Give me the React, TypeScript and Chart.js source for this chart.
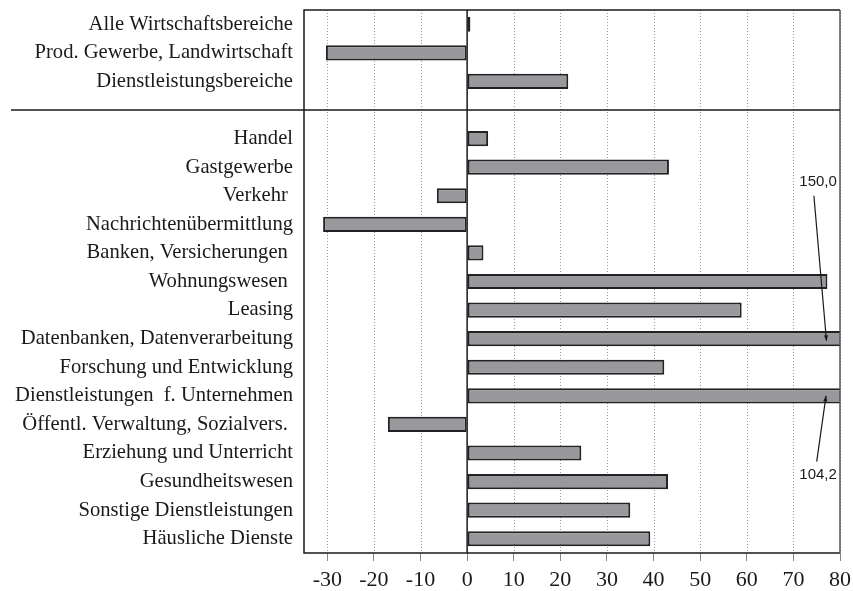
import React, { useEffect, useRef } from "react";
import { Chart, registerables } from "chart.js";

Chart.register(...registerables);

const categories: string[] = [
  "Alle Wirtschaftsbereiche",
  "Prod. Gewerbe, Landwirtschaft",
  "Dienstleistungsbereiche",
  "",
  "Handel",
  "Gastgewerbe",
  "Verkehr ",
  "Nachrichtenübermittlung",
  "Banken, Versicherungen ",
  "Wohnungswesen ",
  "Leasing",
  "Datenbanken, Datenverarbeitung",
  "Forschung und Entwicklung",
  "Dienstleistungen  f. Unternehmen",
  "Öffentl. Verwaltung, Sozialvers. ",
  "Erziehung und Unterricht",
  "Gesundheitswesen",
  "Sonstige Dienstleistungen",
  "Häusliche Dienste",
];

const values: (number | null)[] = [
  0.7, -30.3, 21.7, null, 4.5, 43.3, -6.5, -30.9, 3.5, 77.3, 58.9, 150.0, 42.3,
  104.2, -17.0, 24.5, 43.1, 35.0, 39.3,
];

const tickValues: number[] = [-30, -20, -10, 0, 10, 20, 30, 40, 50, 60, 70, 80];

const xMin = -35;
const xMax = 80;
const separatorIndex = 3;

// annotations: label text, label position (value, category index), arrow start, arrow end
const annotations = [
  { text: "150,0", at: [75.3, 5.5], from: [74.4, 6.0], to: [77.1, 11.08] },
  { text: "104,2", at: [75.3, 15.76], from: [75.0, 15.3], to: [77.0, 13.0] },
];

const framePlugin = {
  id: "framePlugin",
  beforeDatasetsDraw(chart: any) {
    const { ctx, chartArea, scales } = chart;
    const x = scales.x;
    ctx.save();
    ctx.strokeStyle = "#9a9a9a";
    ctx.lineWidth = 1;
    ctx.setLineDash([1, 2]);
    for (const t of x.ticks) {
      if (t.value === 0) continue;
      const px = Math.round(x.getPixelForValue(t.value)) + 0.5;
      ctx.beginPath();
      ctx.moveTo(px, chartArea.top);
      ctx.lineTo(px, chartArea.bottom);
      ctx.stroke();
    }
    ctx.restore();
  },
  afterDatasetsDraw(chart: any) {
    const { ctx, chartArea, scales } = chart;
    const x = scales.x;
    const y = scales.y;
    ctx.save();
    ctx.setLineDash([]);
    ctx.lineWidth = 1.5;
    ctx.strokeStyle = "#1a1a1a";
    ctx.beginPath();
    ctx.moveTo(chartArea.right, chartArea.top);
    ctx.lineTo(chartArea.left, chartArea.top);
    ctx.lineTo(chartArea.left, chartArea.bottom);
    ctx.lineTo(chartArea.right, chartArea.bottom);
    ctx.stroke();
    ctx.strokeStyle = "#555";
    ctx.beginPath();
    ctx.moveTo(chartArea.right, chartArea.top);
    ctx.lineTo(chartArea.right, chartArea.bottom);
    ctx.stroke();
    ctx.strokeStyle = "#1a1a1a";
    const zx = x.getPixelForValue(0);
    ctx.beginPath();
    ctx.moveTo(zx, chartArea.top);
    ctx.lineTo(zx, chartArea.bottom);
    ctx.stroke();
    const sy = y.getPixelForValue(separatorIndex);
    ctx.beginPath();
    ctx.moveTo(11, sy);
    ctx.lineTo(chartArea.right, sy);
    ctx.stroke();
    ctx.fillStyle = "#1a1a1a";
    ctx.font = "15px 'Liberation Sans', Arial, sans-serif";
    ctx.textAlign = "center";
    ctx.textBaseline = "middle";
    ctx.lineWidth = 1.2;
    for (const a of annotations) {
      ctx.fillText(a.text, x.getPixelForValue(a.at[0]), y.getPixelForValue(a.at[1]));
      const x1 = x.getPixelForValue(a.from[0]);
      const y1 = y.getPixelForValue(a.from[1]);
      const x2 = x.getPixelForValue(a.to[0]);
      const y2 = y.getPixelForValue(a.to[1]);
      ctx.beginPath();
      ctx.moveTo(x1, y1);
      ctx.lineTo(x2, y2);
      ctx.stroke();
      const ang = Math.atan2(y2 - y1, x2 - x1);
      const L = 6;
      const w = 0.35;
      ctx.beginPath();
      ctx.moveTo(x2, y2);
      ctx.lineTo(x2 - L * Math.cos(ang - w), y2 - L * Math.sin(ang - w));
      ctx.lineTo(x2 - L * Math.cos(ang + w), y2 - L * Math.sin(ang + w));
      ctx.closePath();
      ctx.fill();
    }
    ctx.restore();
  },
};

export default function App() {
  const ref = useRef<HTMLCanvasElement | null>(null);
  useEffect(() => {
    if (!ref.current) return;
    const chart = new Chart(ref.current, {
      type: "bar",
      data: {
        labels: categories,
        datasets: [
          {
            data: values as any,
            backgroundColor: "#99989c",
            borderColor: "#222",
            borderWidth: 2,
            borderSkipped: false,
            barPercentage: 0.53,
            categoryPercentage: 1,
          },
        ],
      },
      options: {
        indexAxis: "y",
        animation: false,
        responsive: true,
        maintainAspectRatio: false,
        layout: { padding: { top: 10, right: 13, left: 0, bottom: 0 } },
        plugins: { legend: { display: false }, tooltip: { enabled: false } },
        scales: {
          x: {
            type: "linear",
            min: xMin,
            max: xMax,
            ticks: {
              color: "#1a1a1a",
              padding: 6,
              font: { family: "'Liberation Serif', 'Times New Roman', serif", size: 22 },
            },
            afterBuildTicks: (scale: any) => {
              scale.ticks = tickValues.map((v) => ({ value: v }));
            },
            afterFit: (scale: any) => {
              scale.height = 38;
              scale.paddingLeft = 0;
              scale.paddingRight = 0;
            },
            grid: {
              display: true,
              drawOnChartArea: false,
              drawTicks: true,
              tickLength: 8,
              color: "#888",
            },
            border: { display: false },
          },
          y: {
            type: "category",
            ticks: {
              color: "#1a1a1a",
              padding: 11,
              autoSkip: false,
              font: { family: "'Liberation Serif', 'Times New Roman', serif", size: 20.6 },
            },
            afterFit: (scale: any) => {
              scale.width = 304;
              scale.paddingTop = 0;
              scale.paddingBottom = 0;
            },
            grid: { display: false, drawTicks: false },
            border: { display: false },
          },
        },
      },
      plugins: [framePlugin],
    });
    return () => chart.destroy();
  }, []);
  return (
    <div style={{ position: "fixed", left: 0, top: 0, width: 853, height: 591, background: "#fff" }}>
      <canvas ref={ref} />
    </div>
  );
}
